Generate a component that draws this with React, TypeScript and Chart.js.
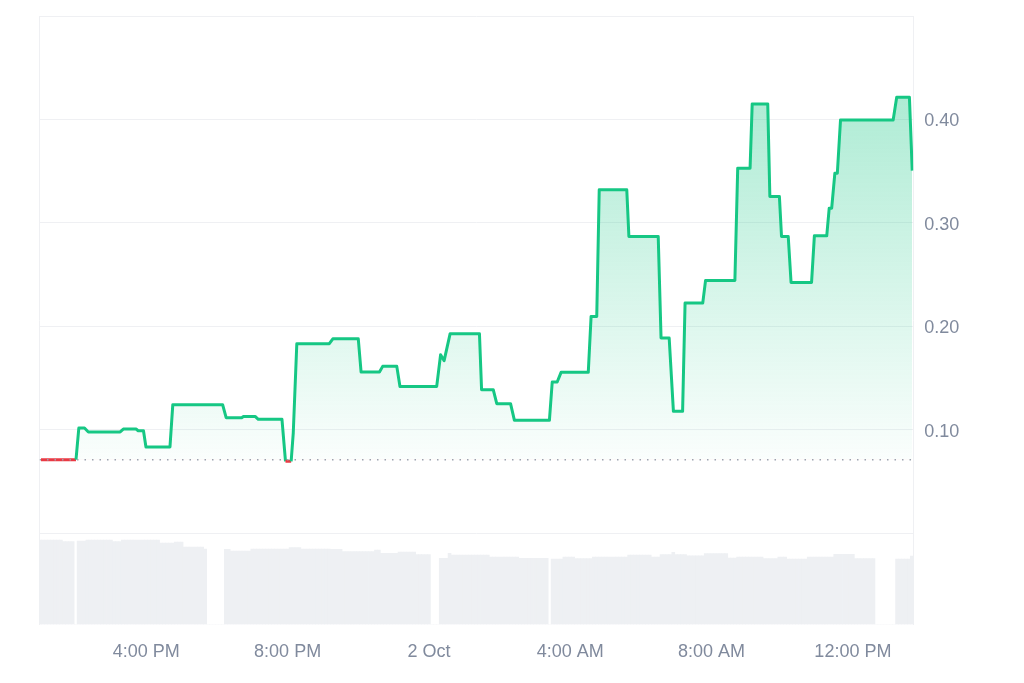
import React, { useEffect, useRef } from "react";
import { Chart, registerables } from "chart.js";

Chart.register(...registerables);

// ---- Data (hours since 1 Oct 00:00) ----
const priceTimes = [
  13.02, 14.01, 14.09, 14.25, 14.36, 15.26, 15.35, 15.71, 15.77, 15.92,
  15.99, 16.67, 16.75, 18.16, 18.26, 18.70, 18.75, 19.08, 19.17, 19.84,
  19.94, 20.10, 20.16, 20.26, 21.18, 21.28, 22.00, 22.08, 22.60, 22.69,
  23.09, 23.18, 24.22, 24.33, 24.43, 24.60, 25.43, 25.49, 25.82, 25.92,
  26.31, 26.42, 27.41, 27.49, 27.63, 27.74, 28.51, 28.59, 28.75, 28.82,
  29.60, 29.66, 30.49, 30.57, 30.80, 30.92, 31.18, 31.25, 31.75, 31.83,
  32.66, 32.74, 33.09, 33.15, 33.59, 33.65, 33.92, 33.98, 34.17, 34.25,
  34.83, 34.91, 35.26, 35.33, 35.40, 35.49, 35.56, 35.65, 37.14, 37.24,
  37.60, 37.68,
];
const prices = [
  0.0710, 0.0710, 0.1016, 0.1016, 0.0978, 0.0978, 0.1006, 0.1006, 0.0990, 0.0990,
  0.0833, 0.0833, 0.1242, 0.1242, 0.1116, 0.1116, 0.1128, 0.1128, 0.1100, 0.1100,
  0.0694, 0.0694, 0.0970, 0.1831, 0.1831, 0.1879, 0.1879, 0.1557, 0.1557, 0.1612,
  0.1612, 0.1418, 0.1418, 0.1725, 0.1667, 0.1928, 0.1928, 0.1387, 0.1387, 0.1251,
  0.1251, 0.1090, 0.1090, 0.1461, 0.1461, 0.1554, 0.1554, 0.2095, 0.2095, 0.3319,
  0.3319, 0.2868, 0.2868, 0.1886, 0.1886, 0.1177, 0.1177, 0.2224, 0.2224, 0.2443,
  0.2443, 0.3529, 0.3529, 0.4150, 0.4150, 0.3254, 0.3254, 0.2868, 0.2868, 0.2424,
  0.2424, 0.2874, 0.2874, 0.3142, 0.3142, 0.3480, 0.3480, 0.3995, 0.3995, 0.4214,
  0.4214, 0.3505,
];
const basePrice = 0.0710;

// Volume (thousands), one bar per 5 minutes starting 13:00
const volStartHour = 13.0;
const volStepHours = 5 / 60;
const volumes = [
  100, 100, 100, 100, 100, 100, 100, 100, 98, 98,
  98, 98, 0, 98.8, 98.8, 98.8, 100, 100, 100, 100,
  100, 100, 100, 100, 100, 98, 98, 98, 100, 100,
  100, 100, 100, 100, 100, 100, 100, 100, 100, 100,
  100, 96.4, 96.4, 96.4, 96.4, 96.4, 97.6, 97.6, 97.6, 91.7,
  91.7, 91.7, 91.7, 91.7, 91.7, 91.7, 89.3, 0, 0, 0,
  0, 0, 0, 89, 89, 87, 87, 87, 87, 87,
  87, 87, 89.3, 89.3, 89.3, 89.3, 89.3, 89.3, 89.3, 89.3,
  89.3, 89.3, 89.3, 89.3, 89.3, 90.9, 90.9, 90.9, 90.9, 89.3,
  89.3, 89.3, 89.3, 89.3, 89.3, 89.3, 89.3, 89.3, 89.3, 89,
  89, 89, 89, 86.2, 86.2, 86.2, 86.2, 86.2, 86.2, 86.2,
  86.2, 86.2, 86.2, 86.2, 88.2, 88.2, 84.3, 84.3, 84.3, 84.3,
  84.3, 84.3, 85.8, 85.8, 85.8, 85.8, 85.8, 85.8, 82.6, 82.6,
  82.6, 82.6, 82.6, 0, 0, 0, 78.3, 78.3, 78.3, 84.3,
  82.2, 82.2, 82.2, 82.2, 82.2, 82.2, 82.2, 82.2, 82.2, 82.2,
  82.2, 82.2, 82.2, 79.9, 79.9, 79.9, 79.9, 79.9, 79.9, 79.9,
  79.9, 79.9, 79.9, 78.3, 78.3, 78.3, 78.3, 78.3, 78.3, 78.3,
  78.3, 78.3, 78.3, 0, 77.5, 77.5, 77.5, 77.5, 79.9, 79.9,
  79.9, 79.9, 78, 78, 78, 78, 78, 78, 79.9, 79.9,
  79.9, 79.9, 79.9, 79.9, 79.9, 79.9, 79.9, 79.9, 79.9, 79.9,
  82.2, 82.2, 82.2, 82.2, 82.2, 82.2, 82.2, 82.2, 79.9, 79.9,
  79.9, 82.6, 82.6, 82.6, 82.6, 85.4, 82.6, 82.6, 82.6, 82.6,
  81.4, 81.4, 81.4, 81.4, 81.4, 81.4, 83.8, 83.8, 83.8, 83.8,
  83.8, 83.8, 83.8, 83.8, 78.7, 78.7, 78.7, 79.9, 79.9, 79.9,
  79.9, 79.9, 79.9, 79.9, 79.9, 79.9, 77.9, 77.9, 77.9, 77.9,
  77.9, 79.9, 79.9, 79.9, 77.5, 77.5, 77.5, 77.5, 77.5, 77.5,
  77.5, 79.9, 79.9, 79.9, 79.9, 79.9, 79.9, 79.9, 79.9, 79.9,
  83.1, 83.1, 83.1, 83.1, 83.1, 83.1, 83.1, 77.9, 77.9, 77.9,
  77.9, 77.9, 77.9, 77.9, 0, 0, 0, 0, 0, 0,
  0, 77.5, 77.5, 77.5, 77.5, 77.5, 81.1,
];

const tickHours = [16, 20, 24, 28, 32, 36];
const tickLabels = ["4:00 PM", "8:00 PM", "2 Oct", "4:00 AM", "8:00 AM", "12:00 PM"];
const priceTicks = [0, 0.1, 0.2, 0.3, 0.4, 0.5];

const xMin = 12.977;
const xMax = 37.71;

const GREEN = "#16c784";
const RED = "#ea3943";
const GRID = "#eff0f3";
const TEXT = "#808a9d";
const FONT = "'Liberation Sans', Arial, Helvetica, sans-serif";

export default function App() {
  const ref = useRef<HTMLCanvasElement | null>(null);

  useEffect(() => {
    if (!ref.current) return;
    const priceData = priceTimes.map((t, i) => ({ x: t, y: prices[i] }));
    const volData = volumes.map((v, i) => ({ x: volStartHour + i * volStepHours, y: v }));
    const baseData = [
      { x: xMin, y: basePrice },
      { x: xMax, y: basePrice },
    ];

    const chart = new Chart(ref.current, {
      data: {
        datasets: [
          {
            type: "line",
            data: baseData,
            borderColor: "#9ca3af",
            borderWidth: 1.5,
            borderDash: [1.5, 6],
            pointRadius: 0,
            fill: false,
            yAxisID: "y",
            order: 0,
          },
          {
            type: "line",
            data: priceData,
            borderWidth: 3,
            borderColor: GREEN,
            borderJoinStyle: "round",
            pointRadius: 0,
            tension: 0,
            yAxisID: "y",
            order: 1,
            segment: {
              borderColor: (ctx: any) =>
                ctx.p0.parsed.y <= basePrice + 1e-6 && ctx.p1.parsed.y <= basePrice + 1e-6 ? RED : GREEN,
            },
            backgroundColor: (ctx: any) => {
              const chart = ctx.chart;
              const area = chart.chartArea;
              if (!area) return "rgba(22,199,132,0.15)";
              const yScale = chart.scales.y;
              const bottom = yScale ? yScale.getPixelForValue(basePrice) : area.bottom;
              const g = chart.ctx.createLinearGradient(0, area.top, 0, bottom);
              g.addColorStop(0, "rgba(22,199,132,0.42)");
              g.addColorStop(1, "rgba(22,199,132,0.02)");
              return g;
            },
            fill: { target: { value: basePrice }, below: "rgba(234,57,67,0.12)" },
          } as any,
          {
            type: "bar",
            data: volData,
            backgroundColor: "#eef0f3",
            borderWidth: 0,
            barPercentage: 1,
            categoryPercentage: 1,
            yAxisID: "yVol",
            order: 2,
          },
        ],
      },
      options: {
        responsive: false,
        animation: false,
        devicePixelRatio: 1,
        layout: { padding: { left: 39.5, top: 16, right: 0, bottom: 0 } },
        plugins: {
          legend: { display: false },
          tooltip: { enabled: false },
        },
        scales: {
          x: {
            type: "linear",
            min: xMin,
            max: xMax,
            offset: false,
            position: "bottom",
            grid: { display: false, drawTicks: false },
            border: { display: false },
            afterBuildTicks: (axis: any) => {
              axis.ticks = tickHours.map((v) => ({ value: v }));
            },
            afterFit: (axis: any) => {
              axis.height = 58.5;
            },
            ticks: {
              autoSkip: false,
              maxRotation: 0,
              padding: 17,
              color: TEXT,
              font: { family: FONT, size: 18 },
              callback: (v: any) => {
                const i = tickHours.indexOf(Number(v));
                return i >= 0 ? tickLabels[i] : "";
              },
            },
          },
          y: {
            type: "linear",
            position: "right",
            min: -0.0884,
            max: 0.5,
            grid: { color: GRID, lineWidth: 1, drawTicks: true, tickLength: 10, tickColor: "rgba(0,0,0,0)" },
            border: { display: true, color: GRID },
            afterBuildTicks: (axis: any) => {
              axis.ticks = priceTicks.map((v) => ({ value: v }));
            },
            afterFit: (axis: any) => {
              axis.width = 110.7;
            },
            ticks: {
              padding: 1,
              labelOffset: 2,
              color: TEXT,
              font: { family: FONT, size: 18 },
              callback: (v: any) => {
                const n = Number(v);
                return n > 0.05 && n < 0.45 ? n.toFixed(2) : "";
              },
            },
          },
          yVol: {
            type: "linear",
            position: "left",
            min: 0,
            max: 720,
            grid: { display: false, drawTicks: false },
            border: { display: true, color: GRID },
            ticks: { display: false },
            afterFit: (axis: any) => {
              axis.width = 0;
            },
          },
        },
      },
    } as any);

    return () => chart.destroy();
  }, []);

  return (
    <div style={{ position: "fixed", left: 0, top: 0, width: 1024, height: 683, background: "#fff" }}>
      <canvas ref={ref} width={1024} height={683} style={{ width: 1024, height: 683, display: "block" }} />
    </div>
  );
}
